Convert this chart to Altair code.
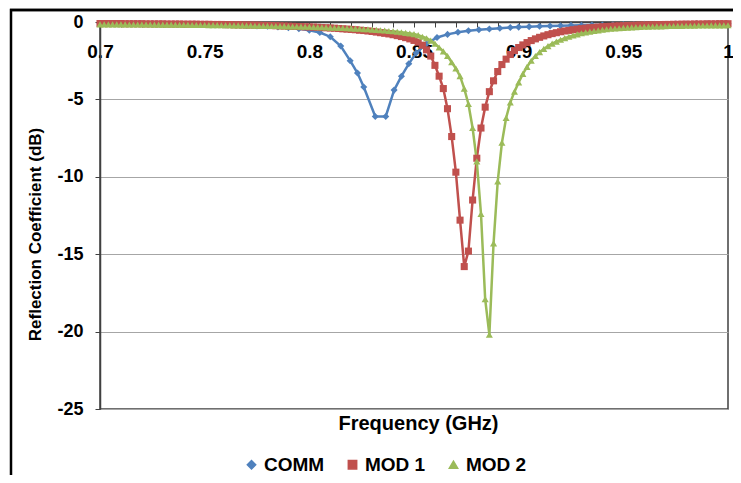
import altair as alt
import pandas as pd

SERIES = ["COMM", "MOD 1", "MOD 2"]
COLORS = ["#4F81BD", "#C0504D", "#9BBB59"]
SHAPES = ["diamond", "square", "triangle-up"]

COMM_FREQ = [0.700, 0.705, 0.710, 0.715, 0.720, 0.725, 0.730, 0.735, 0.740, 0.745,
             0.750, 0.755, 0.760, 0.765, 0.770, 0.775, 0.780, 0.785, 0.790, 0.795,
             0.800, 0.805, 0.810, 0.815, 0.8195, 0.823, 0.826, 0.8315, 0.8365, 0.8405,
             0.844, 0.8475, 0.851, 0.856, 0.861, 0.866, 0.871, 0.876, 0.881, 0.886,
             0.891, 0.896, 0.900, 0.905, 0.910, 0.915, 0.920, 0.925, 0.930, 0.935,
             0.940, 0.945, 0.950, 0.955, 0.960, 0.965, 0.970, 0.975, 0.980, 0.985,
             0.990, 0.995, 1.000]
COMM_DB = [-0.10, -0.10, -0.11, -0.11, -0.12, -0.12, -0.13, -0.14, -0.14, -0.15,
           -0.16, -0.17, -0.19, -0.20, -0.22, -0.25, -0.28, -0.32, -0.37, -0.44,
           -0.53, -0.68, -0.95, -1.55, -2.50, -3.30, -4.20, -6.10, -6.10, -4.40,
           -3.50, -2.70, -2.00, -1.40, -1.00, -0.80, -0.66, -0.57, -0.50, -0.45,
           -0.40, -0.36, -0.33, -0.30, -0.28, -0.26, -0.24, -0.22, -0.21, -0.20,
           -0.19, -0.18, -0.17, -0.16, -0.15, -0.15, -0.14, -0.13, -0.13, -0.12,
           -0.12, -0.11, -0.11]

# MOD 1 / MOD 2 sampled every 0.002 GHz from 0.700 to 1.000
MOD_FREQ = [round(0.700 + 0.002 * i, 3) for i in range(151)]
MOD1_DB = [-0.10, -0.10, -0.10, -0.10, -0.10, -0.10, -0.11, -0.11, -0.11, -0.11,
           -0.11, -0.12, -0.12, -0.12, -0.12, -0.12, -0.13, -0.13, -0.13, -0.13,
           -0.14, -0.14, -0.14, -0.14, -0.15, -0.15, -0.15, -0.16, -0.16, -0.16,
           -0.17, -0.17, -0.18, -0.18, -0.19, -0.19, -0.20, -0.20, -0.21, -0.22,
           -0.22, -0.23, -0.24, -0.25, -0.26, -0.27, -0.28, -0.29, -0.30, -0.31,
           -0.32, -0.33, -0.34, -0.36, -0.37, -0.39, -0.40, -0.42, -0.44, -0.46,
           -0.48, -0.50, -0.53, -0.55, -0.58, -0.61, -0.65, -0.69, -0.73, -0.77,
           -0.82, -0.88, -0.94, -1.01, -1.09, -1.19, -1.30, -1.50, -1.80, -2.20,
           -2.80, -3.50, -4.30, -5.60, -7.40, -9.70, -12.8, -15.8, -14.8, -11.5,
           -8.80, -6.85, -5.50, -4.50, -3.80, -3.20, -2.75, -2.40, -2.10, -1.85,
           -1.65, -1.48, -1.33, -1.20, -1.09, -0.99, -0.90, -0.82, -0.75, -0.69,
           -0.63, -0.58, -0.54, -0.50, -0.46, -0.43, -0.40, -0.37, -0.35, -0.33,
           -0.31, -0.29, -0.28, -0.26, -0.25, -0.24, -0.23, -0.22, -0.21, -0.20,
           -0.19, -0.19, -0.18, -0.17, -0.17, -0.16, -0.16, -0.15, -0.15, -0.14,
           -0.14, -0.14, -0.13, -0.13, -0.13, -0.12, -0.12, -0.12, -0.11, -0.11,
           -0.11]
MOD2_DB = [-0.15, -0.15, -0.15, -0.15, -0.15, -0.15, -0.15, -0.16, -0.16, -0.16,
           -0.16, -0.16, -0.16, -0.17, -0.17, -0.17, -0.17, -0.17, -0.18, -0.18,
           -0.18, -0.18, -0.19, -0.19, -0.19, -0.19, -0.20, -0.20, -0.20, -0.21,
           -0.21, -0.21, -0.22, -0.22, -0.22, -0.23, -0.23, -0.24, -0.24, -0.25,
           -0.25, -0.26, -0.26, -0.27, -0.27, -0.28, -0.29, -0.29, -0.30, -0.31,
           -0.31, -0.32, -0.33, -0.34, -0.35, -0.36, -0.37, -0.38, -0.39, -0.40,
           -0.41, -0.43, -0.44, -0.46, -0.47, -0.49, -0.51, -0.53, -0.55, -0.58,
           -0.60, -0.63, -0.66, -0.70, -0.74, -0.78, -0.85, -0.95, -1.05, -1.20,
           -1.40, -1.65, -1.90, -2.20, -2.60, -3.00, -3.50, -4.30, -5.30, -6.85,
           -9.00, -12.4, -17.9, -20.2, -14.3, -10.3, -7.80, -6.20, -5.20, -4.50,
           -3.90, -3.35, -2.90, -2.50, -2.20, -1.95, -1.74, -1.56, -1.40, -1.27,
           -1.15, -1.04, -0.95, -0.87, -0.80, -0.73, -0.67, -0.62, -0.58, -0.54,
           -0.50, -0.47, -0.44, -0.42, -0.40, -0.38, -0.36, -0.35, -0.33, -0.32,
           -0.31, -0.30, -0.29, -0.28, -0.28, -0.27, -0.26, -0.26, -0.25, -0.25,
           -0.24, -0.24, -0.24, -0.23, -0.23, -0.23, -0.22, -0.22, -0.22, -0.22,
           -0.21]

X_TICKS = [0.70, 0.71, 0.72, 0.73, 0.74, 0.75, 0.76, 0.77, 0.78, 0.79, 0.80,
           0.81, 0.82, 0.83, 0.84, 0.85, 0.86, 0.87, 0.88, 0.89, 0.90,
           0.91, 0.92, 0.93, 0.94, 0.95, 0.96, 0.97, 0.98, 0.99, 1.00]
Y_TICKS = [0, -5, -10, -15, -20, -25]

rows = []
for f, v in zip(COMM_FREQ, COMM_DB):
    rows.append({"freq": f, "db": v, "series": "COMM"})
for f, v in zip(MOD_FREQ, MOD1_DB):
    rows.append({"freq": f, "db": v, "series": "MOD 1"})
for f, v in zip(MOD_FREQ, MOD2_DB):
    rows.append({"freq": f, "db": v, "series": "MOD 2"})
df = pd.DataFrame(rows)

W, H = 628, 387
FONT = "Liberation Sans"

x_enc = alt.X(
    "freq:Q",
    scale=alt.Scale(domain=[0.7, 1.0], nice=False, zero=False),
    axis=alt.Axis(
        orient="bottom", offset=-H, values=X_TICKS,
        labelExpr="(round(datum.value*100) % 5 == 0) ? format(datum.value, '~g') : ''",
        labelFont=FONT, labelFontSize=19, labelFontWeight="bold", labelColor="black",
        labelPadding=15, labelFlush=False, labelOverlap=False,
        domainColor="#404040", domainWidth=1.5, tickColor="#404040", tickSize=5,
        grid=False,
        title="Frequency (GHz)", titleFont=FONT, titleFontSize=20, titleFontWeight="bold",
        titleColor="black", titleX=318, titleY=401, titleBaseline="middle", titleAlign="center",
    ),
)
y_enc = alt.Y(
    "db:Q",
    scale=alt.Scale(domain=[-25, 0], nice=False),
    axis=alt.Axis(
        values=Y_TICKS,
        labelExpr="datum.value == 0 ? '0' : '-' + abs(datum.value)",
        labelFont=FONT, labelFontSize=18, labelFontWeight="bold", labelColor="black",
        labelPadding=12,
        domainColor="#404040", domainWidth=1.5, tickColor="#404040", tickSize=5,
        grid=True, gridColor="#A6A6A6", gridWidth=1,
        title="Reflection Coefficient (dB)", titleFont=FONT, titleFontSize=17,
        titleFontWeight="bold", titleColor="black", titleX=-65, titleY=212,
        titleAngle=270, titleBaseline="middle", titleAlign="center",
    ),
)

color_scale = alt.Scale(domain=SERIES, range=COLORS)
shape_scale = alt.Scale(domain=SERIES, range=SHAPES)
legend = alt.Legend(
    orient="none", legendX=142, legendY=433, direction="horizontal", title=None,
    labelFont=FONT, labelFontSize=19, labelFontWeight="bold", labelColor="black",
    symbolSize=70, labelOffset=3, columnPadding=18, padding=0,
)

one_row = pd.DataFrame({"k": [0]})
frame = alt.Chart(one_row).mark_rect(
    fillOpacity=0, stroke="black", strokeWidth=2.5
).encode(
    x=alt.value(-89), x2=alt.value(W + 60), y=alt.value(-12), y2=alt.value(H + 120)
)
frame_top = alt.Chart(one_row).mark_rule(color="black", strokeWidth=2.5).encode(
    x=alt.value(-90), x2=alt.value(W + 60), y=alt.value(-12)
)

lines = alt.Chart(df).mark_line(strokeWidth=2.5).encode(
    x=x_enc, y=y_enc,
    color=alt.Color("series:N", scale=color_scale, legend=legend),
)
points = alt.Chart(df).mark_point(filled=True, size=50, opacity=1).encode(
    x=x_enc, y=y_enc,
    color=alt.Color("series:N", scale=color_scale, legend=legend),
    shape=alt.Shape("series:N", scale=shape_scale, legend=legend),
)

chart = alt.layer(frame, frame_top, lines, points).properties(
    width=W, height=H,
    autosize=alt.AutoSizeParams(type="none"),
    padding={"left": 92, "top": 14, "right": 5, "bottom": 66},
    background="white",
).configure_view(stroke="#404040", strokeWidth=1.5)

chart.save("out.html", embed_options={"renderer": "svg", "actions": False})
